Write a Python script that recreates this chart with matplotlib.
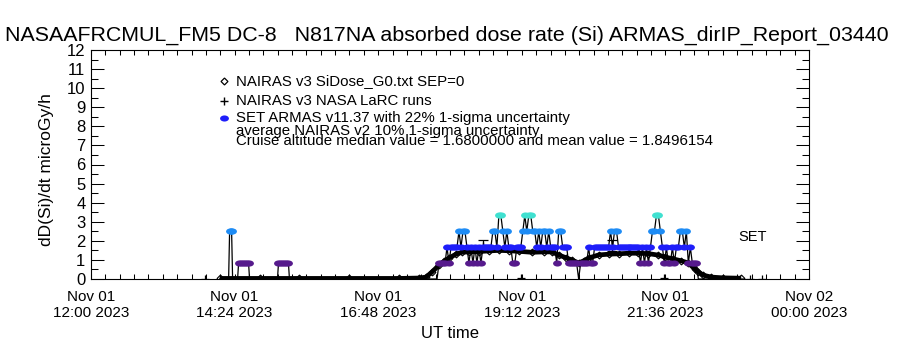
import numpy as np
import matplotlib
matplotlib.use("Agg")
import matplotlib.pyplot as plt
from matplotlib.ticker import MultipleLocator, FixedLocator
from matplotlib.markers import MarkerStyle
from matplotlib.transforms import Affine2D

plt.rcParams['font.family'] = ['Liberation Sans', 'DejaVu Sans']

# ---------------- text ----------------
title = "NASAAFRCMUL_FM5 DC-8   N817NA absorbed dose rate (Si) ARMAS_dirIP_Report_03440"
ylabel = "dD(Si)/dt microGy/h"
xlabel = "UT time"
x_tick_minutes = [0, 144, 288, 432, 576, 720]   # minutes after Nov 01 12:00 UT
x_tick_labels = ["Nov 01\n12:00 2023", "Nov 01\n14:24 2023", "Nov 01\n16:48 2023",
                 "Nov 01\n19:12 2023", "Nov 01\n21:36 2023", "Nov 02\n00:00 2023"]
y_ticks = list(range(13))
legend_texts = ["NAIRAS v3 SiDose_G0.txt SEP=0",
                "NAIRAS v3 NASA LaRC runs",
                "SET ARMAS v11.37 with 22% 1-sigma uncertainty",
                "average NAIRAS v2 10% 1-sigma uncertainty",
                "Cruise altitude median value = 1.6800000 and mean value = 1.8496154"]
set_label = "SET"

# ---------------- NAIRAS v3 SiDose (diamonds) ----------------
nairas_t = [129, 169, 209, 259, 309, 329, 336, 342, 349, 354, 359, 366, 372, 379, 389,
            399, 409, 419, 429, 442, 454, 462, 469, 476, 482, 489, 494, 499, 509, 519,
            529, 539, 549, 559, 569, 576, 584, 592, 599, 606, 609, 614, 622, 634, 652]
nairas_v = [0.03, 0.03, 0.03, 0.03, 0.03, 0.05, 0.10, 0.37, 0.73, 0.92, 1.10, 1.30, 1.40, 1.42, 1.44,
            1.47, 1.50, 1.48, 1.45, 1.40, 1.42, 1.42, 1.26, 1.12, 1.00, 0.84, 0.95, 1.10, 1.26, 1.30,
            1.32, 1.35, 1.35, 1.33, 1.25, 1.15, 1.05, 0.95, 0.84, 0.50, 0.37, 0.20, 0.10, 0.06, 0.04]

# ---------------- NAIRAS v3 NASA LaRC runs (plus) ----------------
larc_t = [114, 431, 575, 661, 673]
larc_v = [0.0, 0.05, 0.05, 0.0, 0.0]
larc_err_t = [393, 522]
larc_err_v = [1.75, 1.75]
larc_err = [0.30, 0.30]

# ---------------- SET ARMAS (quantized levels) ----------------
armas_levels = [0.0, 0.83, 1.66, 2.5, 3.33]
armas_colors = ['black', '#561a8c', '#1e1efa', '#1e8cf5', '#40e0d0']
armas_early_t = [129, 138, 139, 140, 141, 142, 147, 148, 150, 152, 154, 156, 158, 159,
                 187, 188, 190, 192, 194, 196, 198, 199, 345]
armas_early_code = [0, 0, 3, 3, 3, 0, 0, 1, 1, 1, 1, 1, 1, 0,
                    0, 1, 1, 1, 1, 1, 1, 0, 0]
armas_main_start = 347
armas_main_step = 2
armas_main_code = [0, 1, 1, 1, 1, 2, 1, 2, 2, 2,
                   2, 3, 2, 3, 3, 2, 1, 2, 1, 2,
                   1, 2, 1, 2, 2, 2, 2, 2, 3, 3,
                   2, 4, 4, 3, 2, 3, 2, 2, 1, 1,
                   2, 2, 2, 3, 4, 3, 4, 4, 3, 3,
                   2, 3, 2, 3, 3, 2, 3, 2, 2, 2,
                   1, 3, 3, 2, 2, 2, 1, 1, 1, 1,
                   1, 0, 1, 1, 1, 1, 2, 1, 1, 2,
                   2, 2, 2, 2, 2, 2, 2, 3, 2, 3,
                   3, 2, 2, 2, 2, 2, 2, 2, 2, 2,
                   2, 2, 1, 2, 1, 2, 1, 2, 3, 3,
                   4, 4, 3, 2, 1, 2, 1, 1, 2, 1,
                   2, 2, 3, 3, 2, 3, 1, 2, 1, 1,
                   1, 0, 0]
armas_late_t = [613, 655]
armas_late_code = [0, 0]

# ---------------- figure ----------------
W, H = 900, 350
fig = plt.figure(figsize=(W / 100, H / 100), dpi=100)
ax = fig.add_axes([91 / W, 71 / H, 718 / W, 229 / H])

def fx(px):
    return px / W

def fy(py):
    return 1 - py / H

# NAIRAS curve
ax.plot(nairas_t, nairas_v, color='black', lw=3.4, zorder=2, solid_capstyle='butt')
ax.plot(nairas_t, nairas_v, linestyle='none', marker='D', ms=3.5, mfc='none',
        mec='black', mew=0.8, zorder=2)

# ARMAS series
main_t = armas_main_start + armas_main_step * np.arange(len(armas_main_code))
a_t = np.concatenate([armas_early_t, main_t, armas_late_t])
a_code = np.concatenate([armas_early_code, armas_main_code, armas_late_code]).astype(int)
a_v = np.array(armas_levels)[a_code]
ax.plot(a_t, a_v, color='black', lw=0.9, zorder=3)
dot = MarkerStyle('o', transform=Affine2D().scale(1.45, 1.0))
for lev in range(1, len(armas_levels)):
    m = a_code == lev
    ax.plot(a_t[m], a_v[m], linestyle='none', marker=dot, ms=4.4,
            mfc=armas_colors[lev], mec=armas_colors[lev], mew=0, zorder=4)

# LaRC runs
ax.plot(larc_t, larc_v, linestyle='none', marker='+', ms=6, mew=0.9, color='black', zorder=3)
ax.errorbar(larc_err_t, larc_err_v, yerr=larc_err, fmt='+', ms=6, color='black',
            elinewidth=0.9, capsize=3.5, capthick=0.9, zorder=3.5)

ax.text(649, 2.2, set_label, fontsize=10.5, ha='left', va='center')

# axes setup
ax.set_xlim(0, 720)
ax.set_ylim(0, 12)
ax.xaxis.set_major_locator(FixedLocator(x_tick_minutes))
ax.set_xticklabels(x_tick_labels, fontsize=11, linespacing=1.15)
ax.xaxis.set_minor_locator(MultipleLocator(14.4))
ax.yaxis.set_major_locator(FixedLocator(y_ticks))
ax.set_yticklabels([str(v) for v in y_ticks], fontsize=12)
ax.yaxis.set_minor_locator(MultipleLocator(0.5))
ax.tick_params(which='both', direction='in', top=True, right=True, width=0.75)
ax.tick_params(axis='x', which='both', length=3.5, pad=8)
ax.tick_params(axis='y', which='major', length=9.5, pad=4)
ax.tick_params(axis='y', which='minor', length=5)
for s in ax.spines.values():
    s.set_linewidth(0.8)

fig.text(fx(450), fy(333), xlabel, fontsize=12, ha='center', va='center')
fig.text(fx(47), fy(170), ylabel, fontsize=12.5, ha='center', va='center', rotation=90)

# title fitted to the reference width
renderer = fig.canvas.get_renderer()
t_obj = fig.text(fx(5), fy(35), title, fontsize=14, ha='left', va='center')
w = t_obj.get_window_extent(renderer).width
t_obj.set_fontsize(14 * 890 / w)

# legend block (the last two lines overlap in the reference as well)
leg_y = [81, 101, 118, 131, 141]
leg_objs = []
for txt, yy in zip(legend_texts, leg_y):
    leg_objs.append(fig.text(fx(236), fy(yy), txt, fontsize=10, ha='left', va='center'))
w2 = leg_objs[2].get_window_extent(renderer).width
for o in leg_objs:
    o.set_fontsize(10 * 335 / w2)

ax.plot([fx(224)], [fy(81)], transform=fig.transFigure, marker='D', ms=3.5, mfc='white',
        mec='black', mew=0.9, linestyle='none', clip_on=False)
ax.plot([fx(224)], [fy(101)], transform=fig.transFigure, marker='+', ms=6, mew=1.0,
        color='black', linestyle='none', clip_on=False)
ax.plot([fx(224)], [fy(118)], transform=fig.transFigure, marker=dot, ms=4.4, color=armas_colors[2],
        mew=0, linestyle='none', clip_on=False)

fig.savefig("out.png", dpi=100)
